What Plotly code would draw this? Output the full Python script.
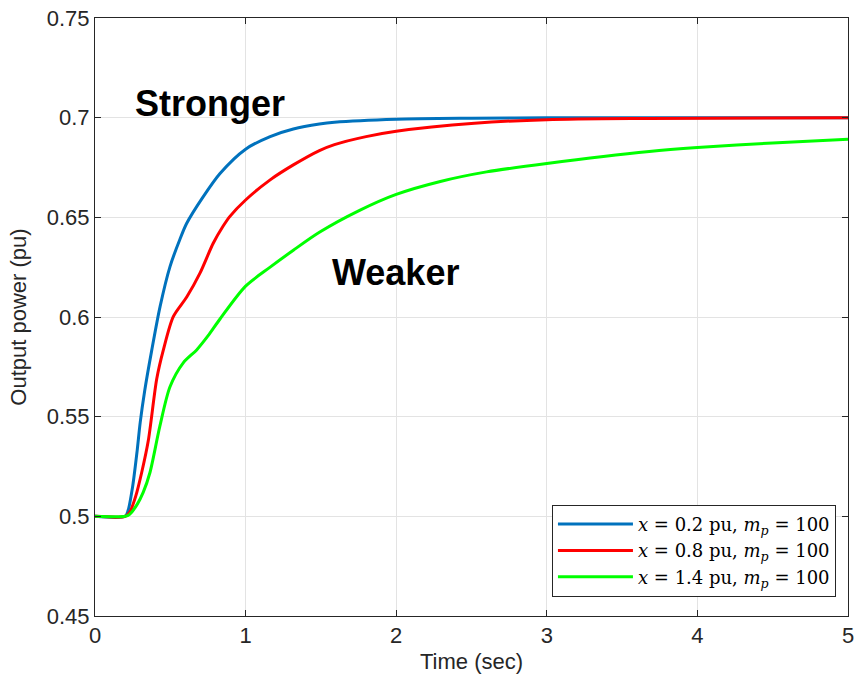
import plotly.graph_objects as go

t_blue = [0, 0.2, 0.22, 0.25, 0.28, 0.30, 0.33, 0.376, 0.432, 0.498, 0.564, 0.609, 0.72, 0.83, 1.0, 1.163, 1.317, 1.49, 1.59, 2.0, 2.5, 3.0, 4.0, 5.0]
v_blue = [0.5, 0.5, 0.503, 0.515, 0.533, 0.547, 0.563, 0.583, 0.6052, 0.6253, 0.639, 0.647, 0.6605, 0.672, 0.6842, 0.6905, 0.6943, 0.6968, 0.6977, 0.6992, 0.6997, 0.6999, 0.7, 0.7]

t_red = [0, 0.2, 0.23, 0.27, 0.31, 0.354, 0.41, 0.454, 0.52, 0.609, 0.697, 0.785, 0.85, 0.896, 1.0, 1.163, 1.317, 1.49, 1.59, 1.8, 2.0, 2.52, 3.0, 3.68, 5.0]
v_red = [0.5, 0.5, 0.502, 0.51, 0.522, 0.538, 0.569, 0.5835, 0.6002, 0.610, 0.622, 0.637, 0.6455, 0.6505, 0.6587, 0.6688, 0.6763, 0.6835, 0.6865, 0.6905, 0.6932, 0.6972, 0.699, 0.6996, 0.7]

t_green = [0, 0.2, 0.23, 0.28, 0.32, 0.365, 0.43, 0.498, 0.586, 0.675, 0.75, 0.83, 1.0, 1.163, 1.317, 1.49, 1.757, 2.0, 2.293, 2.6, 3.0, 3.68, 4.0, 4.5, 5.0]
v_green = [0.5, 0.5, 0.501, 0.506, 0.512, 0.522, 0.545, 0.565, 0.577, 0.5835, 0.5905, 0.599, 0.6155, 0.625, 0.6335, 0.6425, 0.6535, 0.6615, 0.668, 0.6728, 0.677, 0.683, 0.685, 0.6873, 0.6892]

names = ["<i>x</i> = 0.2 pu, <i>m</i><sub><i>p</i></sub> = 100",
         "<i>x</i> = 0.8 pu, <i>m</i><sub><i>p</i></sub> = 100",
         "<i>x</i> = 1.4 pu, <i>m</i><sub><i>p</i></sub> = 100"]
colors = ["#0072BD", "#FF0000", "#00FF00"]

fig = go.Figure()
for tt, vv, nm, c in zip([t_blue, t_red, t_green], [v_blue, v_red, v_green], names, colors):
    fig.add_trace(go.Scatter(x=tt, y=vv, mode="lines", name=nm,
                             line=dict(color=c, width=3, shape="spline", smoothing=0.8)))

sans = "Liberation Sans, Arial, Helvetica"
fig.add_annotation(x=0.25, y=0.7073, text="<b>Stronger</b>", showarrow=False, xanchor="left",
                   font=dict(family=sans, size=36, color="black"))
fig.add_annotation(x=1.56, y=0.6225, text="<b>Weaker</b>", showarrow=False, xanchor="left",
                   font=dict(family=sans, size=36, color="black"))

axis_common = dict(showline=True, linecolor="#262626", linewidth=1, mirror="ticks",
                   ticks="inside", ticklen=6, tickcolor="#262626",
                   showgrid=True, gridcolor="#e3e3e3", gridwidth=1, zeroline=False,
                   tickfont=dict(family=sans, size=22, color="#262626"))

fig.update_xaxes(range=[0, 5], dtick=1, title=dict(text="Time (sec)", standoff=6,
                 font=dict(family=sans, size=22, color="#262626")), **axis_common)
fig.update_yaxes(range=[0.45, 0.75], dtick=0.05, tickformat="~g",
                 title=dict(text="Output power (pu)", standoff=14,
                 font=dict(family=sans, size=22, color="#262626")), **axis_common)

fig.update_layout(
    width=858, height=690, template="none",
    plot_bgcolor="white", paper_bgcolor="white",
    margin=dict(l=95, r=10, t=18, b=74),
    legend=dict(x=0.984, y=0.032, xanchor="right", yanchor="bottom",
                bgcolor="white", bordercolor="#262626", borderwidth=1,
                font=dict(family="DejaVu Serif, Liberation Serif", size=18, color="black"),
                tracegroupgap=0, itemwidth=75),
    showlegend=True,
)

fig.write_html("out.html")
